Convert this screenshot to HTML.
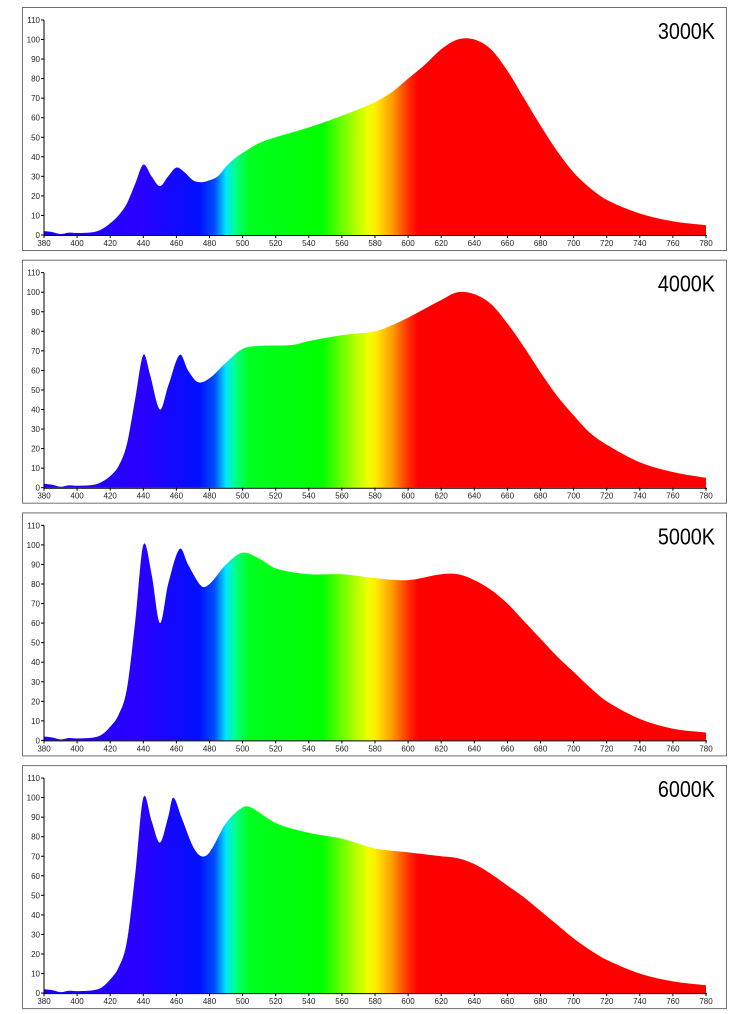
<!DOCTYPE html>
<html><head><meta charset="utf-8"><style>
html,body{margin:0;padding:0;background:#fff;}
svg{display:block;}
</style></head><body>
<svg id="s" width="750" height="1014" xmlns="http://www.w3.org/2000/svg">
<defs>
<linearGradient id="g" gradientUnits="userSpaceOnUse" x1="44" y1="0" x2="706" y2="0">
<stop offset="0" stop-color="#1a00ff"/>
<stop offset="0.15" stop-color="#2a00ff"/>
<stop offset="0.235" stop-color="#0010ff"/>
<stop offset="0.258" stop-color="#0050ff"/>
<stop offset="0.275" stop-color="#00e8ff"/>
<stop offset="0.29" stop-color="#00ff80"/>
<stop offset="0.31" stop-color="#00ff20"/>
<stop offset="0.42" stop-color="#00ff00"/>
<stop offset="0.465" stop-color="#a0ff00"/>
<stop offset="0.49" stop-color="#f0ff00"/>
<stop offset="0.5" stop-color="#ffee00"/>
<stop offset="0.525" stop-color="#ffa000"/>
<stop offset="0.55" stop-color="#ff3000"/>
<stop offset="0.565" stop-color="#ff0000"/>
<stop offset="1" stop-color="#ff0000"/>
</linearGradient>
</defs>
</svg>
<script>
var S=document.getElementById('s'),NS='http://www.w3.org/2000/svg';
function el(t,a,txt){var e=document.createElementNS(NS,t);for(var k in a)e.setAttribute(k,a[k]);if(txt!=null)e.textContent=txt;S.appendChild(e);return e;}
var low=[[380,2],[385,1.5],[390,0.5],[395,1.2],[400,1],[410,1.5],[415,3]];
var data=[
{t:'3000K',p:low.concat([[420,6],[425,10],[430,16],[435,26],[440,36],[445,30],[450,25],[455,30],[460,34.5],[465,32],[470,28],[475,27],[480,28],[485,30],[490,35],[495,39],[500,42],[510,47],[520,50],[540,55],[560,61],[580,68],[590,73],[600,80],[610,87],[620,95],[630,100],[640,100],[650,95],[660,84],[670,70],[680,56],[690,43],[700,32],[710,24],[720,18],[740,11],[760,7],[780,5]])},
{t:'4000K',p:low.concat([[420,6],[425,11],[430,22],[435,45],[440,68],[444,58],[450,40],[455,52],[462,68],[467,60],[473,54],[480,56],[490,64],[500,71],[510,72.5],[530,73],[540,75],[560,78],[580,80],[590,83],[600,87],[620,96],[630,100],[640,99],[650,94],[660,84],[670,72],[680,59],[690,47],[700,37],[710,28],[720,22],[740,13],[760,8],[780,5]])},
{t:'5000K',p:low.concat([[420,7],[425,13],[430,26],[435,60],[440,100],[445,85],[450,60],[455,80],[462,98],[467,90],[475,79],[480,80],[490,90],[500,96],[510,93],[520,88],[540,85],[560,85],[580,83],[600,82],[620,85],[630,85],[640,82],[650,77],[660,70],[670,61],[680,52],[690,43],[700,35],[710,27],[720,20],[740,11],[760,6],[780,4]])},
{t:'6000K',p:low.concat([[420,7],[425,13],[430,26],[435,60],[440,100],[445,88],[450,77],[455,90],[458,100],[463,90],[470,75],[475,70],[480,72],[490,87],[500,95],[505,95],[520,87],[540,82],[560,79],[580,74],[600,72],[620,70],[630,69],[640,66],[650,61],[660,55],[670,49],[680,42],[690,35],[700,28],[710,22],[720,17],[740,10],[760,6],[780,4]])}
];
function interp(p,x){for(var i=0;i<p.length-1;i++){if(x>=p[i][0]&&x<=p[i+1][0]){
var p0=p[Math.max(i-1,0)],p1=p[i],p2=p[i+1],p3=p[Math.min(i+2,p.length-1)];
var t=(x-p1[0])/(p2[0]-p1[0]),h=p2[0]-p1[0];
var m1=(p2[1]-p0[1])/(p2[0]-p0[0])*h,m2=(p3[1]-p1[1])/(p3[0]-p1[0])*h;
var t2=t*t,t3=t2*t;
return (2*t3-3*t2+1)*p1[1]+(t3-2*t2+t)*m1+(-2*t3+3*t2)*p2[1]+(t3-t2)*m2;}}return 0;}
for(var k=0;k<4;k++){
 var off=k*252.7,y0=235+off,sy=1.955;
 el('rect',{x:22.5,y:7.5+off,width:704,height:243,fill:'#fff',stroke:'#707070','stroke-width':1});
 var d='M44,'+y0;
 for(var nm=380;nm<=780;nm+=0.5){var v=Math.max(0,interp(data[k].p,nm));d+=' L'+(44+(nm-380)*1.655).toFixed(2)+','+(y0-v*sy).toFixed(2);}
 d+=' L706,'+y0+' Z';
 el('path',{d:d,fill:'url(#g)'});
 el('line',{x1:44,y1:20+off,x2:44,y2:y0,stroke:'#000','stroke-width':1});
 el('line',{x1:44,y1:y0+0.5,x2:707,y2:y0+0.5,stroke:'#000','stroke-width':1});
 for(var v=0;v<=110;v+=10){var yy=y0-v*sy;el('line',{x1:41,y1:yy,x2:44,y2:yy,stroke:'#000','stroke-width':1});
  el('text',{x:40,y:yy+3,'font-family':'Liberation Sans, sans-serif','font-size':8,'text-anchor':'end',fill:'#222'},String(v));}
 for(var nm=380;nm<=780;nm+=20){var xx=44+(nm-380)*1.655;el('line',{x1:xx,y1:y0,x2:xx,y2:y0+3,stroke:'#000','stroke-width':1});
  el('text',{x:xx,y:y0+11,'font-family':'Liberation Sans, sans-serif','font-size':8,'text-anchor':'middle',fill:'#222'},String(nm));}
 el('text',{x:0,y:0,'font-family':'Liberation Sans, sans-serif','font-size':23,'text-anchor':'end',fill:'#000',transform:'translate(715,'+(39+off)+') scale(0.86,1)'},data[k].t);
}
</script>
</body></html>
